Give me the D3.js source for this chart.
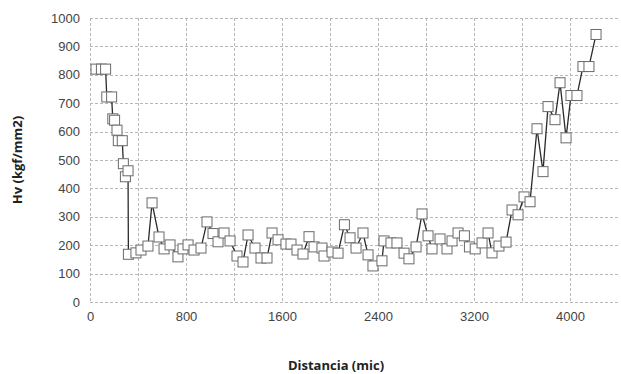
<!DOCTYPE html>
<html>
<head>
<meta charset="utf-8">
<script src="https://cdn.jsdelivr.net/npm/d3@7"></script>
<style>
  body { margin: 0; background: #fff; }
  svg { display: block; font-family: "Open Sans", "Liberation Sans", sans-serif; }
  .grid line { stroke: #b8b8b8; stroke-dasharray: 3,2; stroke-width: 1; }
  .tick text { fill: #444; font-size: 13px; }
</style>
</head>
<body>
<div id="chart"></div>
<script>
// distance along the sample (mic) and hardness readings (Hv)
var distancia = [50, 95, 130, 140, 180, 190, 205, 225, 236, 269, 278, 295, 317, 320, 383, 425, 483, 517, 575, 617,
    667, 733, 775, 817, 867, 925, 975, 1025, 1067, 1117, 1167, 1225, 1275, 1317, 1375, 1425, 1475, 1517, 1567, 1633,
    1675, 1725, 1775, 1825, 1867, 1933, 1950, 2017, 2067, 2120, 2167, 2217, 2275, 2317, 2358, 2433, 2450, 2508, 2558, 2617,
    2658, 2717, 2767, 2817, 2850, 2917, 2975, 3017, 3067, 3120, 3162, 3210, 3267, 3317, 3350, 3408, 3467, 3517, 3567, 3617,
    3667, 3725, 3775, 3817, 3875, 3917, 3967, 4008, 4058, 4108, 4158, 4217];
var dureza = [820, 820, 820, 722, 722, 645, 640, 605, 568, 568, 487, 441, 462, 168, 173, 183, 197, 349, 229, 187,
    201, 159, 187, 201, 183, 190, 282, 241, 212, 243, 215, 162, 141, 236, 190, 155, 155, 243, 219, 204,
    204, 183, 169, 230, 194, 190, 162, 176, 172, 272, 226, 190, 243, 166, 127, 145, 215, 208, 208, 172,
    152, 194, 310, 233, 187, 222, 187, 215, 243, 233, 194, 187, 208, 243, 173, 197, 211, 324, 307, 370,
    353, 610, 459, 688, 642, 772, 578, 727, 727, 829, 829, 942];

var xTicks = [0, 800, 1600, 2400, 3200, 4000];
var xGrid = [0, 400, 800, 1200, 1600, 2000, 2400, 2800, 3200, 3600, 4000];
var yTicks = [0, 100, 200, 300, 400, 500, 600, 700, 800, 900, 1000];

var W = 621, H = 374;
var margin = {top: 18, right: 3, bottom: 72, left: 90},
    width = W - margin.left - margin.right,
    height = H - margin.top - margin.bottom;

var svg = d3.select("#chart").append("svg")
    .attr("width", W)
    .attr("height", H);

var g = svg.append("g")
    .attr("transform", "translate(" + margin.left + "," + margin.top + ")");

var x = d3.scaleLinear().domain([0, 4400]).range([0, width]);
var y = d3.scaleLinear().domain([0, 1000]).range([height, 0]);

// grid
var grid = g.append("g").attr("class", "grid");
grid.selectAll(".gy").data(yTicks).enter().append("line")
    .attr("x1", 0).attr("x2", width)
    .attr("y1", function(d) { return Math.round(y(d)) + 0.5; })
    .attr("y2", function(d) { return Math.round(y(d)) + 0.5; });
grid.selectAll(".gx").data(xGrid).enter().append("line")
    .attr("y1", 0).attr("y2", height)
    .attr("x1", function(d) { return Math.round(x(d)) + 0.5; })
    .attr("x2", function(d) { return Math.round(x(d)) + 0.5; });

// axes (labels only)
var yAxis = g.append("g")
    .call(d3.axisLeft(y).tickValues(yTicks).tickFormat(d3.format("d")).tickSize(0).tickPadding(10));
yAxis.select(".domain").remove();

var xAxis = g.append("g")
    .attr("transform", "translate(0," + height + ")")
    .call(d3.axisBottom(x).tickValues(xTicks).tickFormat(d3.format("d")).tickSize(0).tickPadding(10));
xAxis.select(".domain").remove();

var data = distancia.map(function(d, i) { return {x: d, y: dureza[i]}; });

var line = d3.line()
    .x(function(d) { return x(d.x); })
    .y(function(d) { return y(d.y); });

g.append("path")
    .datum(data)
    .attr("fill", "none")
    .attr("stroke", "#2a2a2a")
    .attr("stroke-width", 1.3)
    .attr("d", line);

var s = 10;
g.selectAll(".pt")
    .data(data)
    .enter().append("rect")
    .attr("class", "pt")
    .attr("x", function(d) { return x(d.x) - s / 2; })
    .attr("y", function(d) { return y(d.y) - s / 2; })
    .attr("width", s)
    .attr("height", s)
    .attr("fill", "#fff")
    .attr("stroke", "#6a6a6a")
    .attr("stroke-width", 1);

// axis titles
svg.append("text")
    .attr("transform", "translate(22," + (margin.top + height / 2) + ") rotate(-90)")
    .attr("text-anchor", "middle")
    .style("font-weight", "bold")
    .style("font-size", "13px")
    .style("fill", "#222")
    .text("Hv (kgf/mm2)");

svg.append("text")
    .attr("x", 336)
    .attr("y", 370)
    .attr("text-anchor", "middle")
    .style("font-weight", "bold")
    .style("font-size", "13px")
    .style("fill", "#222")
    .text("Distancia (mic)");
</script>
</body>
</html>
